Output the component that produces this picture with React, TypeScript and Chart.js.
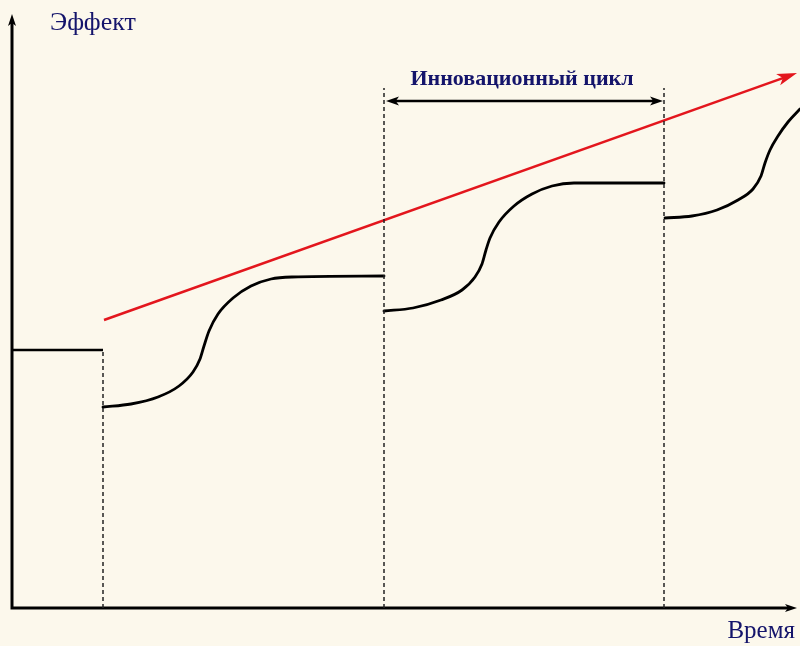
import React, { useEffect, useRef } from "react";
import { Chart, registerables } from "chart.js";
Chart.register(...registerables);

// Units: time (x) and effect (y), origin at the axes' corner
const stepStart = [ { x: 0, y: 258 }, { x: 91, y: 258 } ];
const cycle1 = [
  { x: 91, y: 201 }, { x: 119, y: 204 }, { x: 146, y: 211 }, { x: 167, y: 222 },
  { x: 181, y: 236 }, { x: 188, y: 249 }, { x: 192, y: 262 }, { x: 197, y: 277 },
  { x: 206, y: 294 }, { x: 221, y: 310 }, { x: 239, y: 322 }, { x: 259, y: 329 },
  { x: 280, y: 331 }, { x: 372, y: 332 },
];
const cycle2 = [
  { x: 372, y: 297 }, { x: 401, y: 300 }, { x: 429, y: 308 }, { x: 450, y: 318 },
  { x: 463, y: 331 }, { x: 470, y: 344 }, { x: 474, y: 358 }, { x: 478, y: 370 },
  { x: 487, y: 386 }, { x: 502, y: 402 }, { x: 520, y: 414 }, { x: 540, y: 422 },
  { x: 562, y: 425 }, { x: 652, y: 425 },
];
const cycle3 = [
  { x: 653, y: 390 }, { x: 680, y: 392 }, { x: 705, y: 398 }, { x: 726, y: 408 },
  { x: 741, y: 419 }, { x: 749, y: 432 }, { x: 753, y: 445 }, { x: 758, y: 458 },
  { x: 766, y: 472 }, { x: 776, y: 486 }, { x: 788, y: 499 },
];
const cycleBounds = [91, 372, 652];
const cycleBoundTops = [258, 520, 520];
const trendStart = { x: 92, y: 288 };
const trendEnd = { x: 785, y: 535 };
const cycleArrow = { from: 374, to: 651, y: 507 };
const yAxisTop = 594;
const xAxisEnd = 785;
const labels = {
  effect: { text: "Эффект", x: 38, y: 578 },
  time: { text: "Время", x: 783, y: -30 },
  cycle: { text: "Инновационный цикл", x: 510, y: 523 },
};

const NAVY = "#14146b";
const RED = "#e3161d";
const BG = "#fcf8ec";

function arrowHead(ctx: CanvasRenderingContext2D, x0: number, y0: number, x1: number, y1: number, len: number, half: number, color: string) {
  const a = Math.atan2(y1 - y0, x1 - x0);
  const bx = x1 - len * Math.cos(a);
  const by = y1 - len * Math.sin(a);
  const nx = -Math.sin(a) * half;
  const ny = Math.cos(a) * half;
  const mx = x1 - len * 0.75 * Math.cos(a);
  const my = y1 - len * 0.75 * Math.sin(a);
  ctx.beginPath();
  ctx.moveTo(x1, y1);
  ctx.lineTo(bx + nx, by + ny);
  ctx.lineTo(mx, my);
  ctx.lineTo(bx - nx, by - ny);
  ctx.closePath();
  ctx.fillStyle = color;
  ctx.fill();
}

const decorPlugin = {
  id: "decor",
  beforeDraw(chart: any) {
    const { ctx, width, height } = chart;
    ctx.save();
    ctx.fillStyle = BG;
    ctx.fillRect(0, 0, width, height);
    ctx.restore();
  },
  afterDatasetsDraw(chart: any) {
    const { ctx } = chart;
    const xs = chart.scales.x;
    const ys = chart.scales.y;
    const px = (v: number) => xs.getPixelForValue(v);
    const py = (v: number) => ys.getPixelForValue(v);
    ctx.save();
    arrowHead(ctx, px(0), py(0), px(0), py(yAxisTop), 12, 4, "#000");
    arrowHead(ctx, px(0), py(0), px(xAxisEnd), py(0), 12, 4, "#000");
    arrowHead(ctx, px(trendStart.x), py(trendStart.y), px(trendEnd.x), py(trendEnd.y), 20, 6, RED);
    arrowHead(ctx, px(cycleArrow.to), py(cycleArrow.y), px(cycleArrow.from), py(cycleArrow.y), 13, 4.5, "#000");
    arrowHead(ctx, px(cycleArrow.from), py(cycleArrow.y), px(cycleArrow.to), py(cycleArrow.y), 13, 4.5, "#000");
    ctx.fillStyle = NAVY;
    ctx.textBaseline = "alphabetic";
    ctx.font = "26px 'Liberation Serif', 'DejaVu Serif', serif";
    ctx.textAlign = "left";
    ctx.fillText(labels.effect.text, px(labels.effect.x), py(labels.effect.y));
    ctx.font = "25px 'Liberation Serif', 'DejaVu Serif', serif";
    ctx.textAlign = "right";
    ctx.fillText(labels.time.text, px(labels.time.x), py(labels.time.y));
    ctx.font = "bold 22px 'Liberation Serif', 'DejaVu Serif', serif";
    ctx.textAlign = "center";
    ctx.fillText(labels.cycle.text, px(labels.cycle.x), py(labels.cycle.y));
    ctx.restore();
  },
};

export default function App() {
  const ref = useRef<HTMLCanvasElement | null>(null);
  useEffect(() => {
    if (!ref.current) return;
    const solid = (data: any[], width: number, color = "#000", extra: any = {}) => ({
      data,
      borderColor: color,
      borderWidth: width,
      pointRadius: 0,
      fill: false,
      ...extra,
    });
    const curve = { cubicInterpolationMode: "monotone", borderJoinStyle: "round", borderCapStyle: "round" };
    const datasets: any[] = [
      ...cycleBounds.map((t, i) =>
        solid([{ x: t, y: 0 }, { x: t, y: cycleBoundTops[i] }], 1.5, "#222", { borderDash: [4, 3] })
      ),
      solid([{ x: 0, y: yAxisTop - 6 }, { x: 0, y: 0 }, { x: xAxisEnd - 6, y: 0 }], 3, "#000", { borderJoinStyle: "miter" }),
      solid(stepStart, 2.5),
      solid(cycle1, 2.8, "#000", curve),
      solid(cycle2, 2.8, "#000", curve),
      solid(cycle3, 2.8, "#000", curve),
      solid([trendStart, { x: trendEnd.x - 10, y: trendEnd.y - 3.6 }], 2.5, RED),
      solid([{ x: cycleArrow.from + 6, y: cycleArrow.y }, { x: cycleArrow.to - 6, y: cycleArrow.y }], 2.5),
    ];
    const chart = new Chart(ref.current, {
      type: "line",
      data: { datasets },
      options: {
        animation: false,
        responsive: false,
        maintainAspectRatio: false,
        layout: { padding: 0 },
        plugins: { legend: { display: false }, tooltip: { enabled: false } },
        events: [],
        scales: {
          x: { type: "linear", min: -12, max: 788, display: false },
          y: { type: "linear", min: -38, max: 608, display: false },
        },
      } as any,
      plugins: [decorPlugin],
    });
    return () => chart.destroy();
  }, []);
  return (
    <div style={{ position: "fixed", left: 0, top: 0, width: 800, height: 646, background: BG }}>
      <canvas ref={ref} width={800} height={646} style={{ width: 800, height: 646, display: "block" }} />
    </div>
  );
}
